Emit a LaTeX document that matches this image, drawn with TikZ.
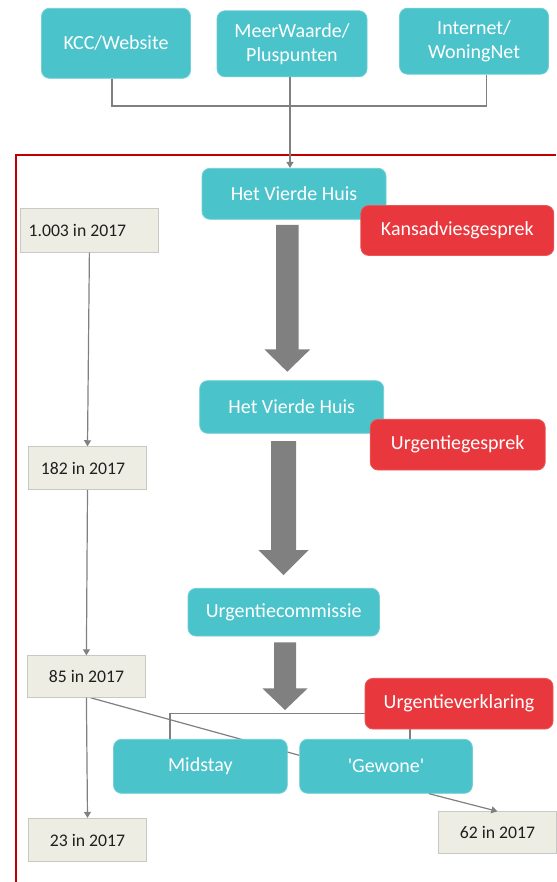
\documentclass[tikz,border=0pt]{standalone}
\usepackage{fontspec}
\setmainfont{Carlito}
\usetikzlibrary{arrows.meta}
\definecolor{tealbox}{RGB}{75,195,203}
\definecolor{redbox}{RGB}{232,56,61}
\definecolor{numfill}{RGB}{238,237,228}
\definecolor{numdraw}{RGB}{200,200,196}
\definecolor{linegray}{RGB}{128,128,128}
\definecolor{framered}{RGB}{192,0,0}
\pgfdeclarelayer{bg}
\pgfsetlayers{bg,main}
\newcommand\blockarrow[6]{%
  \fill[linegray] (#1-#2,#3) -- (#1+#2,#3) -- (#1+#2,#4) -- (#1+#5,#4) -- (#1,#6) -- (#1-#5,#4) -- (#1-#2,#4) -- cycle;}
\begin{document}
\begin{tikzpicture}[x=1pt,y=-1pt,
  box/.style={rounded corners=8pt, inner sep=0pt, text=white, font=\fontsize{20}{24}\selectfont, align=center, line width=0.8pt},
  tealnode/.style={box, fill=tealbox, draw=tealbox!80!white},
  rednode/.style={box, fill=redbox, draw=redbox!85!white},
  numnode/.style={fill=numfill, draw=numdraw, line width=0.8pt, inner sep=0pt, text=black!88, font=\fontsize{17.7}{21}\selectfont},
  conn/.style={draw=linegray, line width=1.2pt},
  connarrow/.style={conn, -{Triangle[length=6pt,width=7pt]}}
]
\useasboundingbox (0,0) rectangle (556,882);
\begin{pgfonlayer}{bg}
\fill[white] (0,0) rectangle (556,882);
\end{pgfonlayer}

% frame
\draw[framered, line width=2.5pt] (556,155) -- (16,155) -- (16,882);

% top sources
\node[tealnode, minimum width=149pt, minimum height=70pt] (kcc) at (116,43.3) {KCC/Website};
\node[tealnode, minimum width=150pt, minimum height=66pt] (meer) at (292,43.8) {MeerWaarde/\\Pluspunten};
\node[tealnode, minimum width=149pt, minimum height=66pt] (inet) at (474,41.2) {Internet/\\WoningNet};

% main column
\node[tealnode, minimum width=184pt, minimum height=51pt] (hvh1) at (294,193.8) {Het Vierde Huis};
\node[rednode, minimum width=193pt, minimum height=50pt] (kans) at (457.3,230.5) {Kansadviesgesprek};
\node[tealnode, minimum width=184pt, minimum height=52.6pt] (hvh2) at (291.7,407) {Het Vierde Huis};
\node[rednode, minimum width=175pt, minimum height=50.7pt] (urg) at (457.7,444.7) {Urgentiegesprek};
\node[tealnode, minimum width=191.4pt, minimum height=47.7pt] (ucom) at (283.7,612.2) {Urgentiecommissie};
\node[rednode, minimum width=188pt, minimum height=50.7pt] (uverk) at (459,703.7) {Urgentieverklaring};
\node[tealnode, minimum width=173.7pt, minimum height=54pt] (mid) at (200.4,766.3) {Midstay};
\node[tealnode, minimum width=172.7pt, minimum height=54pt] (gew) at (386,766.3) {\textquotesingle Gewone\textquotesingle};

% numbers
\node[numnode, minimum width=138pt, minimum height=44pt] (n1003) at (89.4,230.3) {1.003 in 2017\hspace*{24pt}};
\node[numnode, minimum width=118pt, minimum height=42.7pt] (n182) at (87.5,468) {182 in 2017\hspace*{9pt}};
\node[numnode, minimum width=118pt, minimum height=41.6pt] (n85) at (86.4,676.5) {85 in 2017};
\node[numnode, minimum width=118pt, minimum height=43.4pt] (n23) at (87.5,840) {23 in 2017};
\node[numnode, minimum width=117.3pt, minimum height=41.6pt] (n62) at (497.4,832.5) {62 in 2017};

% block arrows
\blockarrow{287.3}{11.3}{225}{349.3}{23}{371.7}
\blockarrow{283.5}{12.5}{441}{550}{25.2}{575}
\blockarrow{285}{11}{642.3}{688.3}{22.7}{710}

% top connectors
\coordinate (join) at (290,106);
\draw[conn] ([xshift=-4pt]kcc.south) |- (join) -| ([xshift=12.5pt]inet.south);
\draw[connarrow] (meer.south -| join) -- (join |- hvh1.north);

% left chain
\draw[connarrow] (n1003.south) -- (n182.north);
\draw[connarrow] (n182.south) -- (n85.north);
\draw[connarrow] (n85.south) -- (n23.north);

% bracket
\coordinate (bl) at (170,713.3);
\draw[conn] (mid.north -| bl) |- (uverk.west |- bl);
\coordinate (br) at (410,734);
\draw[conn] (uverk.south -| br) -- (gew.north -| br);

% diagonal behind Midstay
\begin{pgfonlayer}{bg}
\draw[conn] ([xshift=4pt]n85.south) -- ([yshift=11pt]gew.west);
\end{pgfonlayer}

\draw[connarrow] ([xshift=43pt]gew.south) -- (n62.north);
\end{tikzpicture}
\end{document}
